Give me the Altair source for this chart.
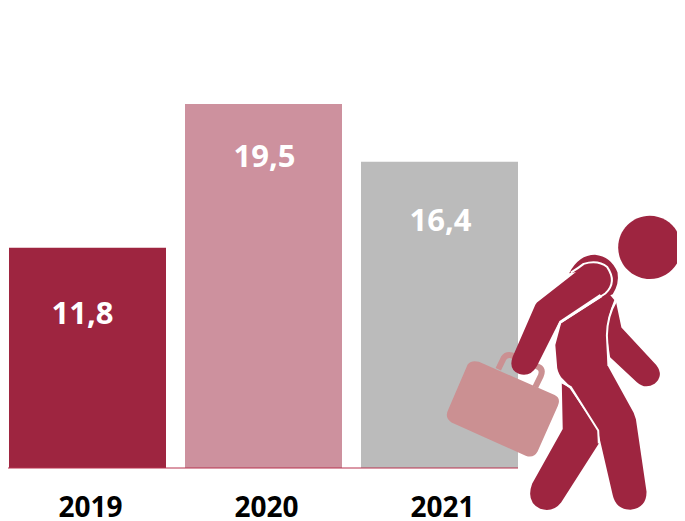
import altair as alt
import pandas as pd

years = ["2019", "2020", "2021"]
values = [11.8, 19.5, 16.4]
labels = ["11,8", "19,5", "16,4"]
label_pos = [8.22, 16.6, 13.17]
label_dx = [-5, 1, 1]
colors = ["#9e2540", "#cd919e", "#bbbbbb"]

MAROON = "#9e2540"
CASE = "#cb9092"
FONT = "Open Sans"

# Icon glyphs (walking person with a briefcase), in local glyph units
head = "M650,29 C704,29 748,73 748,127 C748,181 704,225 650,225 C596,225 552,181 552,127 C552,73 596,29 650,29 Z"
back_arm = "M545,295 L562,375 L670,492 Q695,525 665,550 Q635,568 610,545 L527,468 L517,400 Q518,340 545,295 Z"
crescent = "M400,207 Q430,150 480,150 Q530,155 550,205 Q556,240 535,272 L505,285 L440,200 Z"
back_leg = "M377,546 L402,565 L490,695 L492,735 L375,918 Q350,950 310,938 Q265,915 285,860 L380,690 Z"
body = "M375,362 L522,268 L540,290 Q518,340 517,400 L520,495 L600,640 L607,660 L640,885 Q640,935 590,941 Q545,940 535,895 L490,700 L405,560 L375,530 Q362,510 362,490 L357,430 Z"
arm = "M300,298 L438,190 Q490,165 518,195 Q545,235 505,265 L370,355 L300,495 Q280,530 245,520 Q210,505 225,465 L295,305 Z"
case_body = "M85,490 Q98,475 120,482 L355,585 Q375,595 365,618 L302,760 Q290,782 265,773 L35,670 Q12,655 25,630 Z"
case_handle = "M180,505 L197,470 Q205,458 222,462 L305,498 Q320,505 312,525 L295,560"
line_a = "M405,205 Q430,190 445,178 Q490,165 518,188 Q550,235 512,270 L372,360 L357,395"
line_b = "M545,295 Q518,340 517,400 L522,495"
line_c = "M375,545 L405,560 L490,695 L492,735"

df = pd.DataFrame({"year": years, "value": values, "color": colors})
ymax = 460 / 18.67

x = alt.X(
    "year:N",
    sort=years,
    scale=alt.Scale(range=[1, 510], paddingInner=0.108, paddingOuter=0),
    axis=alt.Axis(
        title=None, domain=False, ticks=False, labelAngle=0, labelFont=FONT,
        labelFontWeight="bold", labelFontSize=28, labelColor="#000000",
        labelPadding=26, labelOffset=3, grid=False,
    ),
)
yscale = alt.Scale(domain=[0, ymax], nice=False)
y = alt.Y("value:Q", scale=yscale, axis=None)

bars = alt.Chart(df).mark_bar(size=157).encode(
    x=x, y=y, color=alt.Color("color:N", scale=None, legend=None)
)

layers = [bars]
layers.append(
    alt.Chart(pd.DataFrame({"v": [0]})).mark_rule(color="#b8324f", strokeWidth=1.2).encode(
        x=alt.value(0), x2=alt.value(510), y=alt.Y("v:Q", scale=yscale, axis=None)
    )
)
for yr, lab, pos, dx in zip(years, labels, label_pos, label_dx):
    d = pd.DataFrame({"year": [yr], "pos": [pos], "label": [lab]})
    layers.append(
        alt.Chart(d).mark_text(
            font=FONT, fontWeight="bold", fontSize=31, color="white", dx=dx, baseline="middle"
        ).encode(
            x=alt.X("year:N", sort=years),
            y=alt.Y("pos:Q", scale=yscale, axis=None),
            text="label:N",
        )
    )


def glyph(path, fill=None, stroke=None, width=0):
    kw = dict(shape=path, size=0.4156, opacity=1)
    if fill:
        kw.update(filled=True, fill=fill, strokeWidth=0)
    else:
        kw.update(filled=False, stroke=stroke, strokeWidth=width, fillOpacity=0)
    return alt.Chart(pd.DataFrame({"a": [0]})).mark_point(**kw).encode(
        x=alt.value(432.25), y=alt.value(198.5)
    )


layers += [
    glyph(case_handle, stroke=CASE, width=6),
    glyph(case_body, fill=CASE),
    glyph(head, fill=MAROON),
    glyph(back_arm, fill=MAROON),
    glyph(crescent, fill=MAROON),
    glyph(back_leg, fill=MAROON),
    glyph(body, fill=MAROON),
    glyph(arm, fill=MAROON),
    glyph(line_a, stroke="white", width=2),
    glyph(line_b, stroke="white", width=2),
    glyph(line_c, stroke="white", width=2),
]

chart = alt.layer(*layers).properties(
    width=669,
    height=460,
    padding={"left": 0, "top": 0, "right": 0, "bottom": 53},
    autosize=alt.AutoSizeParams(type="none"),
    background="white",
).configure_view(stroke=None)

chart.save("out.html", embed_options={"renderer": "svg", "actions": False})
